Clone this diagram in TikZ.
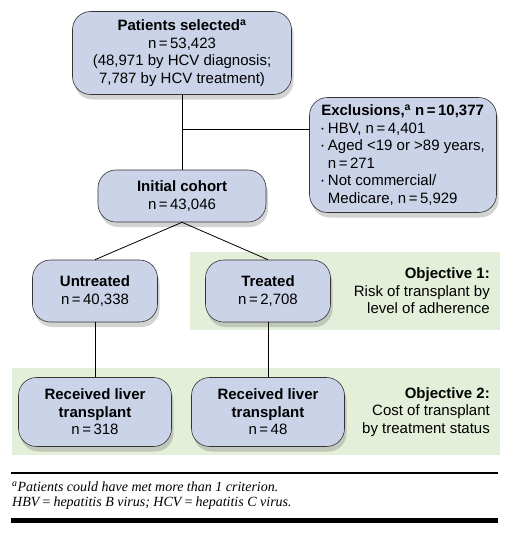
\documentclass[tikz,border=0pt]{standalone}
\usepackage{fontspec}
\setmainfont{Liberation Sans}
\newfontfamily\notefont{Liberation Serif}
\usepackage{tikz}
\usetikzlibrary{positioning, shadows, backgrounds}

\definecolor{boxfill}{HTML}{CBD3E8}
\definecolor{bandfill}{HTML}{E4EFDA}
\newcommand{\dotmark}{\raisebox{0.25ex}{\scriptsize\textbullet}\ }

\begin{document}
\begin{tikzpicture}[x=1pt, y=1pt, on grid, node distance=100pt,
    font=\fontsize{15}{17.5}\selectfont]
                \tikzset{
                    stage/.style={draw=black!80, line width=0.6pt, fill=boxfill,
                        rounded corners=18pt, align=center, inner sep=2pt,
                        drop shadow={opacity=0.35, shadow xshift=2pt, shadow yshift=-5pt}},
                    band/.style={fill=bandfill, draw=none},
                    goal/.style={align=right, anchor=east, inner sep=0pt},
                    link/.style={line width=0.8pt},
                    note/.style={anchor=west, inner sep=0pt, font=\notefont\itshape\fontsize{14}{16}\selectfont}
                }
                \useasboundingbox (0,0) rectangle (507,-533);

                % MAIN STATES
                \node[stage, minimum width=219pt, minimum height=83pt] (sel) at (182,-53)
                    {\textbf{Patients selected\textsuperscript{a}}\\n\,=\,53,423\\(48,971 by HCV diagnosis;\\7,787 by HCV treatment)};
                \node[stage, minimum width=187pt, minimum height=115pt, align=left] (excl) [below right=102pt and 221pt of sel]
                    {\textbf{Exclusions,\textsuperscript{a} n\,=\,10,377}\\
                     \dotmark HBV, n\,=\,4,401\\
                     \dotmark Aged <19 or >89 years,\\
                     \phantom{\dotmark}n\,=\,271\\
                     \dotmark Not commercial/\\
                     \phantom{\dotmark}Medicare, n\,=\,5,929};
                \node[stage, minimum width=168pt, minimum height=52pt] (init) [below=143pt of sel]
                    {\textbf{Initial cohort}\\n\,=\,43,046};

                % BRANCHES
                \node[stage, minimum width=125pt, minimum height=62pt] (untr) [below left=95pt and 87pt of init]
                    {\textbf{Untreated}\\n\,=\,40,338};
                \node[stage, minimum width=125pt, minimum height=62pt] (treat) [below right=95pt and 86pt of init]
                    {\textbf{Treated}\\n\,=\,2,708};
                \node[stage, minimum width=153pt, minimum height=69pt] (liv1) [below=121pt of untr]
                    {\textbf{Received liver}\\\textbf{transplant}\\n\,=\,318};
                \node[stage, minimum width=153pt, minimum height=69pt] (liv2) [below=121pt of treat]
                    {\textbf{Received liver}\\\textbf{transplant}\\n\,=\,48};

                % OBJECTIVES
                \node[goal] (obj1) at (490,-291) {\textbf{Objective 1:}\\Risk of transplant by\\level of adherence};
                \node[goal] (obj2) at (490,-412) {\textbf{Objective 2:}\\Cost of transplant\\by treatment status};

                \begin{scope}[on background layer]
                    \fill[band] (190,-252) rectangle (500,-330);
                    \fill[band] (12,-368) rectangle (500,-455);
                \end{scope}

                % CONNECTORS
                \coordinate (fork) at ([yshift=-35pt] sel.south);
                \draw[link] (sel.south) -- (init.north);
                \draw[link] (fork) -- (fork -| excl.west);
                \draw[link] (init.south) -- (untr.north);
                \draw[link] (init.south) -- (treat.north);
                \draw[link] (untr.south) -- (liv1.north);
                \draw[link] (treat.south) -- (liv2.north);

                % FOOTNOTE
                \draw[line width=2.5pt] (11,-473) -- (498,-473);
                \node[note] (note1) at (12,-487) {\textsuperscript{a}Patients could have met more than 1 criterion.};
                \node[note] (note2) at (12,-503) {HBV\,=\,hepatitis B virus; HCV\,=\,hepatitis C virus.};
                \draw[line width=5pt] (11,-520) -- (498,-520);

            \end{tikzpicture}
\end{document}
